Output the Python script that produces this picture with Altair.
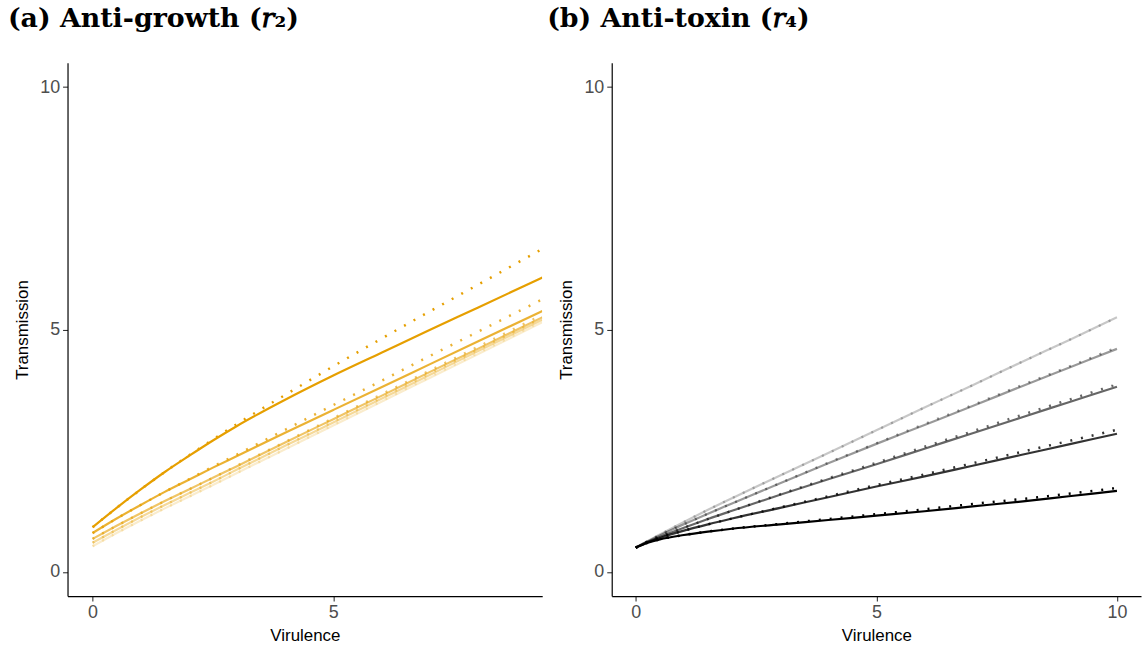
import altair as alt
import pandas as pd

ORANGE = "#E69F00"
BLACK = "#000000"
alphas = [1.0, 0.8, 0.6, 0.4, 0.2]

# Panel (a): Anti-growth
a_x = [0, 0.5, 1, 1.5, 2, 2.5, 3, 4, 5, 6, 7, 8, 9.34]
a_solid = [
    [0.92, 1.32, 1.70, 2.06, 2.39, 2.71, 3.01, 3.55, 4.05, 4.52, 4.99, 5.45, 6.07],
    [0.80, 1.10, 1.38, 1.65, 1.90, 2.15, 2.39, 2.87, 3.34, 3.81, 4.28, 4.75, 5.38],
    [0.68, 0.95, 1.21, 1.46, 1.70, 1.94, 2.18, 2.67, 3.15, 3.63, 4.12, 4.60, 5.25],
    [0.60, 0.87, 1.13, 1.38, 1.62, 1.86, 2.11, 2.60, 3.08, 3.57, 4.06, 4.55, 5.20],
    [0.53, 0.80, 1.06, 1.31, 1.55, 1.79, 2.04, 2.53, 3.02, 3.51, 4.00, 4.49, 5.15],
]
a_dotted = [
    [0.92, 1.32, 1.70, 2.06, 2.40, 2.73, 3.05, 3.65, 4.24, 4.81, 5.37, 5.92, 6.66],
    [0.80, 1.10, 1.38, 1.65, 1.91, 2.17, 2.42, 2.93, 3.44, 3.94, 4.45, 4.95, 5.62],
    [0.68, 0.95, 1.21, 1.46, 1.70, 1.94, 2.19, 2.68, 3.17, 3.66, 4.15, 4.64, 5.30],
    [0.60, 0.87, 1.13, 1.38, 1.62, 1.86, 2.11, 2.60, 3.10, 3.59, 4.09, 4.58, 5.24],
    [0.53, 0.80, 1.06, 1.31, 1.55, 1.79, 2.04, 2.53, 3.03, 3.52, 4.02, 4.51, 5.17],
]

# Panel (b): Anti-toxin
b_x = [0, 0.25, 0.5, 1, 1.5, 2, 3, 4, 5, 6, 7, 8, 9, 10]
b_solid = [
    [0.50, 0.60, 0.67, 0.76, 0.83, 0.89, 0.98, 1.07, 1.16, 1.25, 1.35, 1.45, 1.56, 1.67],
    [0.50, 0.61, 0.70, 0.85, 0.98, 1.10, 1.32, 1.54, 1.76, 1.97, 2.19, 2.41, 2.63, 2.85],
    [0.50, 0.62, 0.72, 0.91, 1.09, 1.26, 1.59, 1.91, 2.22, 2.54, 2.86, 3.18, 3.50, 3.82],
    [0.50, 0.63, 0.75, 0.98, 1.20, 1.41, 1.83, 2.24, 2.64, 3.03, 3.42, 3.82, 4.21, 4.60],
    [0.50, 0.64, 0.77, 1.03, 1.28, 1.52, 1.99, 2.45, 2.92, 3.39, 3.85, 4.32, 4.78, 5.25],
]
b_dotted = [
    [0.50, 0.60, 0.67, 0.76, 0.83, 0.89, 0.99, 1.09, 1.19, 1.29, 1.40, 1.50, 1.61, 1.73],
    [0.50, 0.61, 0.70, 0.85, 0.98, 1.10, 1.33, 1.56, 1.79, 2.01, 2.24, 2.47, 2.70, 2.93],
    [0.50, 0.62, 0.72, 0.91, 1.09, 1.26, 1.60, 1.93, 2.25, 2.58, 2.90, 3.23, 3.55, 3.87],
    [0.50, 0.63, 0.75, 0.98, 1.20, 1.41, 1.83, 2.25, 2.65, 3.05, 3.44, 3.84, 4.23, 4.63],
    [0.50, 0.64, 0.77, 1.03, 1.28, 1.52, 1.99, 2.45, 2.92, 3.39, 3.85, 4.32, 4.78, 5.25],
]
b_alphas = [1.0, 0.8, 0.6, 0.4, 0.22]


def long_df(xs, series_list, alpha_list):
    rows = []
    for i, (ys, al) in enumerate(zip(series_list, alpha_list)):
        for x, y in zip(xs, ys):
            rows.append({"x": x, "y": y, "s": i, "alpha": al})
    return pd.DataFrame(rows)


def panel(xs, solid, dotted, al, color, xdom, width, title, dx):
    xenc = alt.X("x:Q", title="Virulence",
                 scale=alt.Scale(domain=xdom, nice=False, zero=False),
                 axis=alt.Axis(values=[0, 5, 10]))
    yenc = alt.Y("y:Q", title="Transmission",
                 scale=alt.Scale(domain=[-0.5, 10.5], nice=False, zero=False),
                 axis=alt.Axis(values=[0, 5, 10]))
    solid_layer = alt.Chart(long_df(xs, solid, al)).mark_line(
        color=color, strokeWidth=2.2, interpolate="monotone", clip=True
    ).encode(x=xenc, y=yenc, detail="s:N", opacity=alt.Opacity("alpha:Q", scale=None))
    dotted_layer = alt.Chart(long_df(xs, dotted, al)).mark_line(
        color=color, strokeWidth=2.5, strokeDash=[2, 9], interpolate="monotone", clip=True
    ).encode(x=xenc, y=yenc, detail="s:N", opacity=alt.Opacity("alpha:Q", scale=None))
    return alt.layer(solid_layer, dotted_layer).properties(
        width=width, height=537,
        title=alt.TitleParams(text=title, anchor="start", frame="bounds",
                              font="DejaVu Serif", fontSize=27, fontWeight="bold",
                              color="black", offset=30, dx=dx),
    )


left = panel(a_x, a_solid, a_dotted, alphas, ORANGE, [-0.52, 9.34], 478, "(a) Anti-growth (𝑟₂)", -6)
right = panel(b_x, b_solid, b_dotted, b_alphas, BLACK, [-0.5, 10.5], 533, "(b) Anti-toxin (𝑟₄)", -11)

chart = alt.hconcat(left, right, spacing=4).properties(
    padding={"left": 7, "top": 3, "right": 3, "bottom": 5}
).configure_view(stroke=None).configure_axis(
    grid=False, domainColor="black", domainWidth=1.2,
    tickColor="#333333", tickSize=5, tickWidth=1.1,
    labelColor="#4D4D4D", labelFont="Liberation Sans", labelFontSize=18,
    titleColor="black", titleFont="Liberation Sans", titleFontSize=17, titleFontWeight="normal",
    labelPadding=3,
).configure_axisX(titlePadding=6).configure_axisY(titlePadding=8)

chart.save("out.html", embed_options={"renderer": "svg", "actions": False})
